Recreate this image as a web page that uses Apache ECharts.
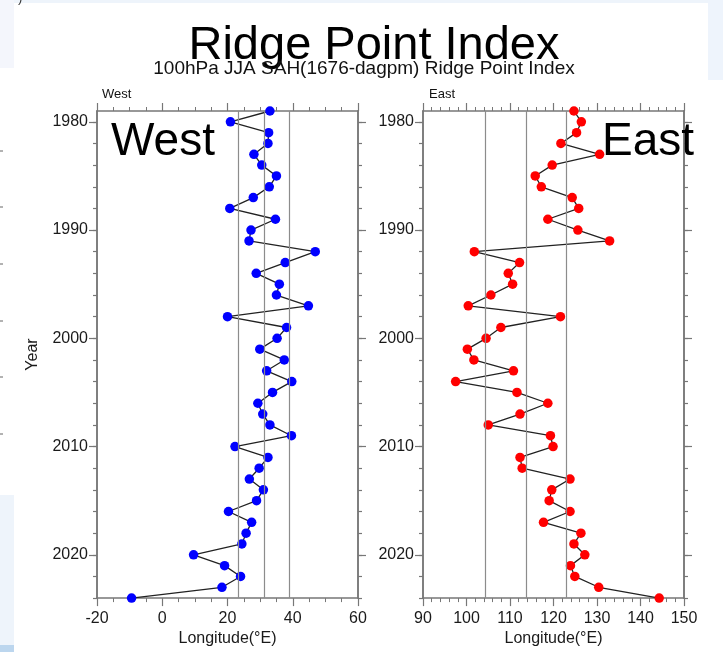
<!DOCTYPE html>
<html>
<head>
<meta charset="utf-8">
<script src="https://cdn.jsdelivr.net/npm/echarts@6/dist/echarts.min.js"></script>
<style>html,body{margin:0;padding:0;background:#fff}#chart{width:723px;height:652px}</style>
</head>
<body>
<div id="chart"></div>
<script>
// ---- data ----
const years = [1979,1980,1981,1982,1983,1984,1985,1986,1987,1988,
  1989,1990,1991,1992,1993,1994,1995,1996,1997,1998,
  1999,2000,2001,2002,2003,2004,2005,2006,2007,2008,
  2009,2010,2011,2012,2013,2014,2015,2016,2017,2018,
  2019,2020,2021,2022,2023,2024];
const westLon = [33.0,20.9,32.6,32.4,28.1,30.5,35.0,32.8,27.9,20.7,
  34.7,27.2,26.6,46.9,37.7,28.8,35.9,35.0,44.8,20.0,
  38.1,35.2,29.9,37.4,32.0,39.7,33.8,29.3,30.8,33.0,
  39.6,22.3,32.4,29.7,26.7,31.0,28.9,20.3,27.4,25.7,
  24.4,9.6,19.1,24.0,18.3,-9.4];
const eastLon = [124.7,126.4,125.3,121.7,130.6,119.7,115.8,117.2,124.3,125.8,
  118.7,125.6,132.9,101.8,112.2,109.6,110.6,105.6,100.4,121.6,
  107.9,104.5,100.2,101.7,110.8,97.5,111.6,118.7,112.3,105.0,
  119.3,119.9,112.3,112.8,123.8,119.6,119.0,123.8,117.7,126.3,
  124.7,127.2,123.9,124.9,130.4,144.3];
// reference lines (mean - std, mean, mean + std)
const westRefLines = [23.4, 31.2, 38.9];
const eastRefLines = [104.3, 113.7, 122.9];
// tick labels
const yearMajorTicks = [1980,1990,2000,2010,2020];
const yearMinorTicks = [1980,1982,1984,1986,1988,1990,1992,1994,1996,1998,2000,2002,2004,2006,2008,2010,2012,2014,2016,2018,2020,2022,2024];
const westXTicks = {min:-20, max:60, interval:20, minorSplit:4};
const eastXTicks = {min:90, max:150, interval:10, minorSplit:5};

// ---- styling helpers ----
const AX = '#777';
const LBL = '#1a1a1a';
const FONT = 'Liberation Sans, Arial, Helvetica, sans-serif';

function xAxisDef(grid, pos, t, withLabels) {
  return {
    type:'value', gridIndex:grid, position:pos, min:t.min, max:t.max, interval:t.interval,
    axisLine:{show:true, onZero:false, lineStyle:{color:AX, width:1.5}},
    axisTick:{show:true, inside:false, length:8, lineStyle:{color:AX, width:1.2}},
    minorTick:{show:true, splitNumber:t.minorSplit, length:4, lineStyle:{color:AX, width:1}},
    splitLine:{show:false}, minorSplitLine:{show:false},
    axisLabel:{show:withLabels, margin:12, color:LBL, fontSize:16, fontFamily:FONT},
    name: withLabels ? 'Longitude(°E)' : '',
    nameLocation:'middle', nameGap:32,
    nameTextStyle:{color:LBL, fontSize:16, fontFamily:FONT}
  };
}
function yAxisDef(grid, pos, ticks, len, withLabels, name) {
  return {
    type:'value', gridIndex:grid, position:pos, min:1979, max:2024, inverse:true,
    axisLine:{show:true, onZero:false, lineStyle:{color:AX, width:1.5}},
    axisTick:{show:true, inside:false, length:len, customValues:ticks, lineStyle:{color:AX, width:1.2}},
    splitLine:{show:false},
    axisLabel:{show:withLabels, customValues:ticks, margin:9, color:LBL, fontSize:16, fontFamily:FONT,
      formatter:(v)=>String(v)},
    name: name || '', nameLocation:'middle', nameGap:56, nameRotate:90,
    nameTextStyle:{color:LBL, fontSize:16, fontFamily:FONT}
  };
}
function seriesDef(data, xi, yi, color, refs) {
  return {
    type:'line', xAxisIndex:xi, yAxisIndex:yi,
    data: data.map((v,i)=>[v, years[i]]),
    symbol:'circle', symbolSize:9.5, showSymbol:true,
    itemStyle:{color:color, borderWidth:0},
    lineStyle:{color:'#222', width:1.3},
    animation:false, silent:true,
    markLine:{
      silent:true, symbol:'none', animation:false,
      label:{show:false},
      lineStyle:{color:'#8c8c8c', width:1.2, type:'solid'},
      data: refs.map(v=>({xAxis:v}))
    },
    z:3
  };
}

const chart = echarts.init(document.getElementById('chart'), null, {renderer:'canvas'});
chart.setOption({
  backgroundColor:'#ffffff',
  animation:false,
  title:[
    {text:'Ridge Point Index', left:369, top:18, textAlign:'center',
     textStyle:{fontSize:47, fontWeight:'normal', color:'#000', fontFamily:FONT}},
    {text:'100hPa JJA SAH(1676-dagpm) Ridge Point Index', left:359, top:54, textAlign:'center',
     textStyle:{fontSize:19, fontWeight:'normal', color:'#111', fontFamily:FONT}},
    {text:'West', left:97, top:83, textStyle:{fontSize:13, fontWeight:'normal', color:'#111', fontFamily:FONT}},
    {text:'East', left:424, top:83, textStyle:{fontSize:13, fontWeight:'normal', color:'#111', fontFamily:FONT}},
    {text:'West', left:106, top:114, textStyle:{fontSize:46, fontWeight:'normal', color:'#000', fontFamily:FONT}},
    {text:'East', left:597, top:114, textStyle:{fontSize:46, fontWeight:'normal', color:'#000', fontFamily:FONT}}
  ],
  grid:[
    {left:97, top:111, width:261, height:489},
    {left:423, top:111, width:261, height:489}
  ],
  xAxis:[
    xAxisDef(0,'bottom',westXTicks,true),
    xAxisDef(0,'top',westXTicks,false),
    xAxisDef(1,'bottom',eastXTicks,true),
    xAxisDef(1,'top',eastXTicks,false)
  ],
  yAxis:[
    yAxisDef(0,'left',yearMajorTicks,8,true,'Year'),
    yAxisDef(0,'left',yearMinorTicks,4,false),
    yAxisDef(0,'right',yearMajorTicks,8,false),
    yAxisDef(0,'right',yearMinorTicks,4,false),
    yAxisDef(1,'left',yearMajorTicks,8,true),
    yAxisDef(1,'left',yearMinorTicks,4,false),
    yAxisDef(1,'right',yearMajorTicks,8,false),
    yAxisDef(1,'right',yearMinorTicks,4,false)
  ],
  series:[
    seriesDef(westLon,0,0,'#0000ff',westRefLines),
    seriesDef(eastLon,2,4,'#ff0000',eastRefLines)
  ],
  graphic:[
    {type:'rect', silent:true, z:-10, shape:{x:0,y:0,width:723,height:3}, style:{fill:'#eef4fb'}},
    {type:'rect', silent:true, z:-10, shape:{x:0,y:0,width:14,height:68}, style:{fill:'#f4f6fc'}},
    {type:'rect', silent:true, z:-10, shape:{x:708,y:0,width:15,height:80}, style:{fill:'#eef4fc'}},
    {type:'rect', silent:true, z:-10, shape:{x:0,y:495,width:14,height:150}, style:{fill:'#eef4fb'}},
    {type:'rect', silent:true, z:-10, shape:{x:0,y:645,width:14,height:7}, style:{fill:'#bcd6ee'}},
    {type:'text', silent:true, left:18, top:-8, style:{text:')', fontSize:13, fill:'#333', fontFamily:FONT}},
    {type:'line', silent:true, shape:{x1:0,y1:151,x2:3,y2:151}, style:{stroke:'#666', lineWidth:1}},
    {type:'line', silent:true, shape:{x1:0,y1:207,x2:3,y2:207}, style:{stroke:'#666', lineWidth:1}},
    {type:'line', silent:true, shape:{x1:0,y1:264,x2:3,y2:264}, style:{stroke:'#666', lineWidth:1}},
    {type:'line', silent:true, shape:{x1:0,y1:321,x2:3,y2:321}, style:{stroke:'#666', lineWidth:1}},
    {type:'line', silent:true, shape:{x1:0,y1:377,x2:3,y2:377}, style:{stroke:'#666', lineWidth:1}},
    {type:'line', silent:true, shape:{x1:0,y1:434,x2:3,y2:434}, style:{stroke:'#666', lineWidth:1}}
  ]
});
</script>
</body>
</html>
